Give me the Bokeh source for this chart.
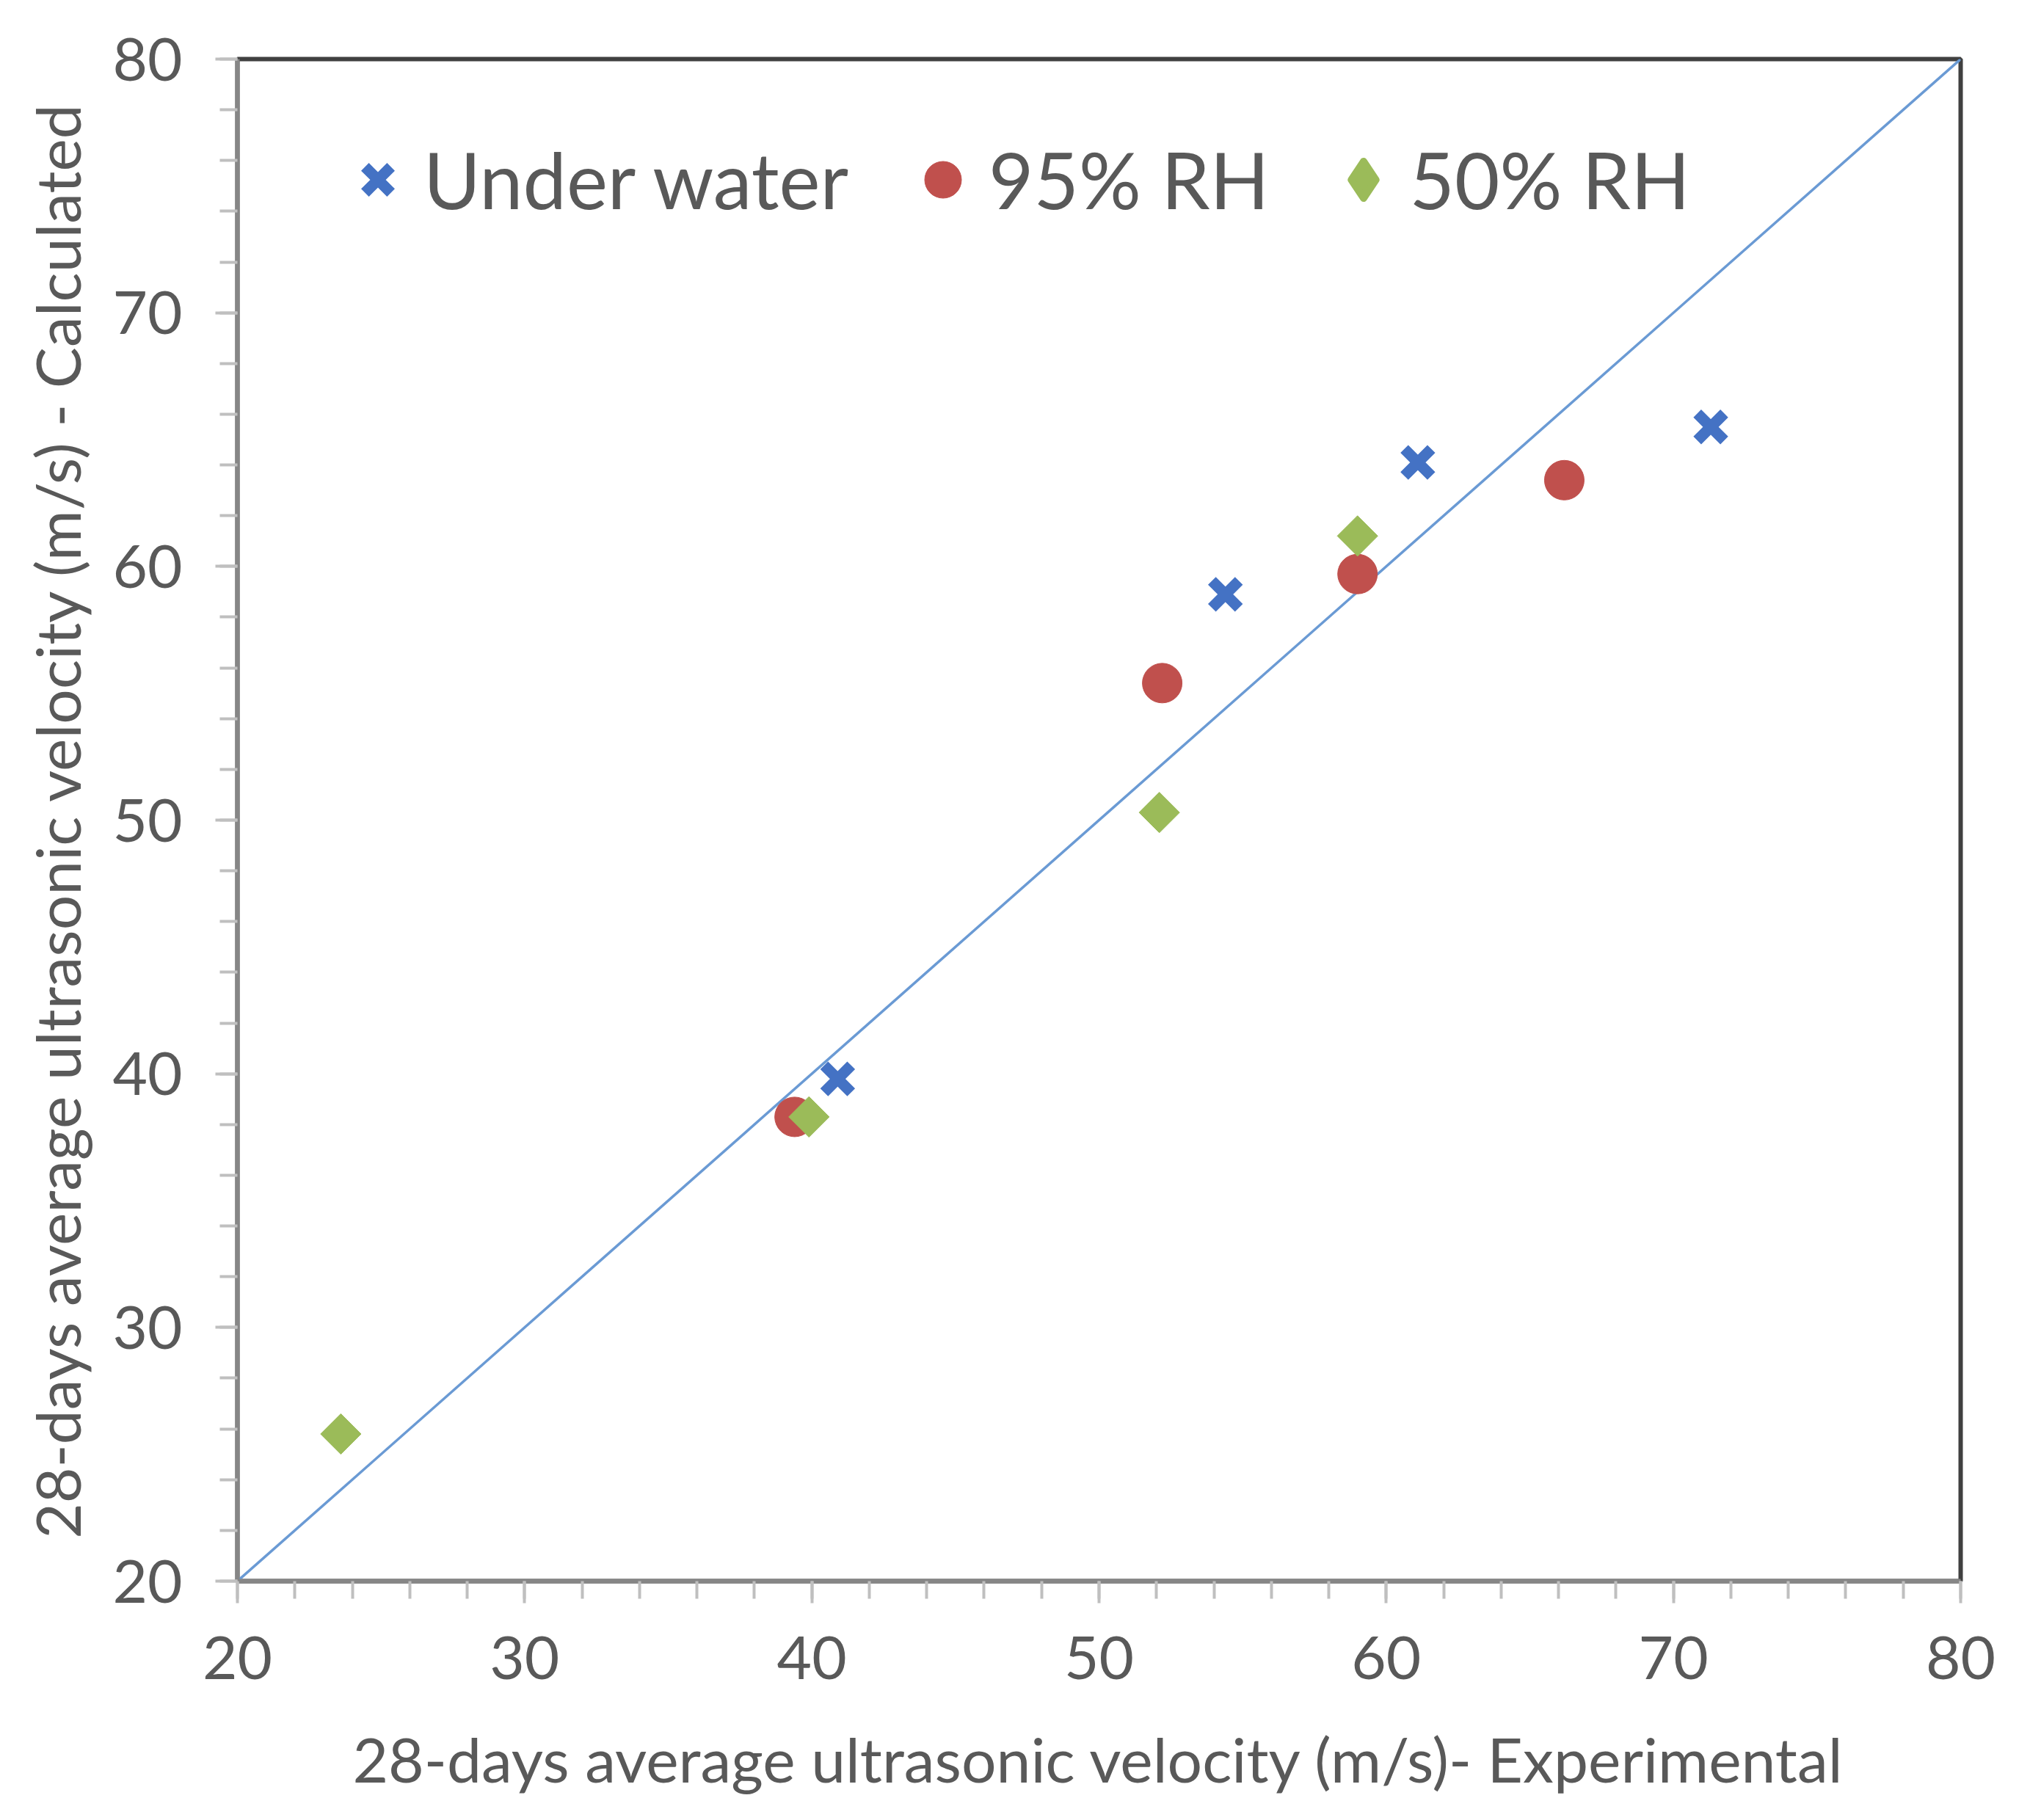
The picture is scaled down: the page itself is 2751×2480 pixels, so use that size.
import numpy as np
from bokeh.plotting import figure
from bokeh.models import SingleIntervalTicker, Range1d, Legend, LegendItem
from bokeh.embed import file_html
from bokeh.resources import INLINE

# Data
uw_x = [40.9, 54.4, 61.1, 71.3]
uw_y = [39.8, 58.9, 64.1, 65.5]
rh95_x = [39.4, 52.2, 59.0, 66.2]
rh95_y = [38.3, 55.4, 59.7, 63.4]
rh50_x = [23.6, 39.9, 52.1, 59.0]
rh50_y = [25.8, 38.3, 50.3, 61.2]
line_x = [20, 80]
line_y = [20, 80]

FONT = "Lato"
TXT = "#595959"

p = figure(width=2735, height=2460, output_backend="svg", toolbar_location=None,
           x_range=Range1d(20, 80), y_range=Range1d(20, 80),
           min_border_left=323, min_border_right=64, min_border_top=80, min_border_bottom=306)

p.grid.visible = False
p.outline_line_color = "#404040"
p.outline_line_width = 6
p.background_fill_color = "white"
p.border_fill_color = "white"

for ax in (p.xaxis[0], p.yaxis[0]):
    ax.ticker = SingleIntervalTicker(interval=10, num_minor_ticks=5)
    ax.axis_line_color = "#868686"
    ax.axis_line_width = 6
    ax.major_tick_line_color = "#bfbfbf"
    ax.major_tick_line_width = 4
    ax.major_tick_out = 30
    ax.major_tick_in = 0
    ax.minor_tick_line_color = "#bfbfbf"
    ax.minor_tick_line_width = 4
    ax.minor_tick_out = 24
    ax.minor_tick_in = 0
    ax.major_label_text_font = FONT
    ax.major_label_text_font_size = "82px"
    ax.major_label_text_color = TXT
    ax.major_label_standoff = 45
    ax.axis_label_text_font = FONT
    ax.axis_label_text_font_size = "84px"
    ax.axis_label_text_color = TXT
    ax.axis_label_text_font_style = "normal"

p.xaxis.axis_label = "28-days average ultrasonic velocity (m/s)- Experimental"
p.yaxis.axis_label = "28-days average ultrasonic velocity (m/s) - Calculated"
p.xaxis.axis_label_standoff = 55
p.yaxis.axis_label_standoff = 22

p.line(line_x, line_y, line_color="#6a9ad4", line_width=3.5)

r1 = p.scatter(uw_x, uw_y, marker="x", size=52, line_color="#4472C4", line_width=15)
r2 = p.scatter(rh95_x, rh95_y, marker="circle", size=54, fill_color="#C0504D", line_color="#C0504D")
r3 = p.scatter(rh50_x, rh50_y, marker="square", size=39, angle=np.pi / 4,
               fill_color="#9BBB59", line_color="#9BBB59")
# legend-only glyph (diamond shape, since legend glyphs ignore angle); NaN point is never drawn
r3_leg = p.scatter(x=np.array([np.nan]), y=np.array([np.nan]), marker="diamond", size=39,
                   fill_color="#9BBB59", line_color="#9BBB59", line_width=10, line_join="round")

legend = Legend(items=[LegendItem(label="Under water", renderers=[r1]),
                       LegendItem(label="95% RH", renderers=[r2]),
                       LegendItem(label="50% RH", renderers=[r3_leg])],
                orientation="horizontal", location=(129, 1846))
legend.label_text_font = FONT
legend.label_text_font_size = "106px"
legend.label_text_color = TXT
legend.border_line_color = None
legend.background_fill_alpha = 0
legend.padding = 0
legend.margin = 0
legend.spacing = 66
legend.glyph_width = 125
legend.glyph_height = 125
legend.label_standoff = 0
legend.label_height = 125
p.add_layout(legend, "center")

open("out.html", "w").write(file_html(p, INLINE))
